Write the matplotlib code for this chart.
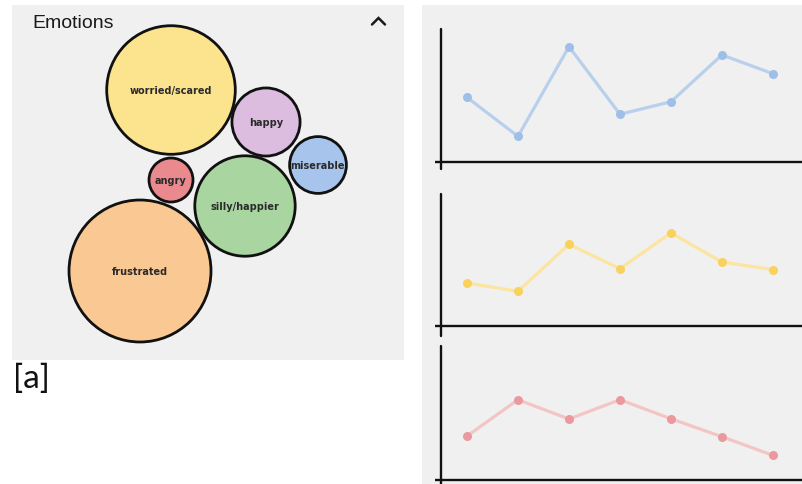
import matplotlib
matplotlib.use("Agg")
import matplotlib.pyplot as plt
from matplotlib.patches import Circle, Rectangle
import numpy as np

# ---- data ----
emotions = ["worried/scared", "happy", "miserable", "angry", "silly/happier", "frustrated"]
counts = [41, 11.5, 8, 4.8, 25, 50]
bubble_colors = ["#fce48f", "#dcbde0", "#a6c4ec", "#ea8a8f", "#a9d6a0", "#f9c893"]

days = ["Mon", "Tue", "Wed", "Thu", "Fri", "Sat", "Sun"]
series_blue = [4.86, 1.93, 8.67, 3.59, 4.53, 8.05, 6.64]
series_yellow = [3.26, 2.63, 6.19, 4.34, 7.05, 4.85, 4.27]
series_red = [3.28, 5.99, 4.55, 5.99, 4.57, 3.23, 1.84]

# ---- layout (pixel canvas) ----
W, H = 803, 485
bubble_centers = [(171, 91), (266, 123), (318, 166), (171, 181), (245, 207), (140, 272)]
bubble_scale = 10.04  # pixels of radius per sqrt(count)

fig = plt.figure(figsize=(W / 100, H / 100), dpi=100)
fig.patch.set_facecolor("white")

bg = fig.add_axes([0, 0, 1, 1])
bg.set_xlim(0, W)
bg.set_ylim(H, 0)
bg.axis("off")
bg.set_zorder(0)

panel = "#f0f0f0"
bg.add_patch(Rectangle((12, 6), 392, 355, facecolor=panel, edgecolor="none"))
bg.add_patch(Rectangle((422, 6), W - 422, H - 6, facecolor=panel, edgecolor="none"))

bg.text(32, 23, "Emotions", family="Liberation Sans", fontsize=14,
        color="#1a1a1a", va="center", ha="left")
bg.plot([372, 378.5, 385], [25.5, 19, 25.5], color="#1a1a1a", lw=1.8,
        solid_capstyle="round", solid_joinstyle="miter")
bg.text(13, 379, "[a]", family="Lato", fontsize=24, color="#111111",
        va="center", ha="left")

for name, c, col, (cx, cy) in zip(emotions, counts, bubble_colors, bubble_centers):
    r = bubble_scale * np.sqrt(c)
    bg.add_patch(Circle((cx, cy), r, facecolor=col, edgecolor="#111111", lw=2.0))
    bg.text(cx, cy, name, fontsize=7, fontweight="semibold", color="#2a2a2a",
            ha="center", va="center", family="DejaVu Sans")


def pbox(x0, y0, x1, y1):
    return [x0 / W, 1 - y1 / H, (x1 - x0) / W, (y1 - y0) / H]


charts = [
    (series_blue, "#b8d0ec", "#9ebfe7", (30, 163), 170),
    (series_yellow, "#fbe5a0", "#f8d25c", (195, 327), 337),
    (series_red, "#f3c5c5", "#ea9a9e", (347, 481), 486),
]
x_left, x_right = -0.51, 6.59
xs = np.arange(len(days))

for vals, lcol, mcol, (top, base), yend in charts:
    ax = fig.add_axes(pbox(441, top, W, base))
    ax.set_zorder(1)
    ax.patch.set_alpha(0)
    ax.set_xlim(x_left, x_right)
    ax.set_ylim(0, 10)
    for s in ax.spines.values():
        s.set_visible(False)
    ax.set_xticks([])
    ax.set_yticks([])
    below = -(yend - base) / (base - top) * 10
    ax.plot([x_left, x_left], [below, 10], color="#111111", lw=1.7,
            clip_on=False, solid_capstyle="round")
    ax.plot([x_left - 0.12, x_right], [0, 0], color="#111111", lw=1.7,
            clip_on=False, solid_capstyle="butt")
    ax.plot(xs, vals, color=lcol, lw=2.3, zorder=2)
    ax.plot(xs, vals, "o", color=mcol, ms=6.5, mec="none", zorder=3)

fig.savefig("out.png", dpi=100, facecolor="white")
